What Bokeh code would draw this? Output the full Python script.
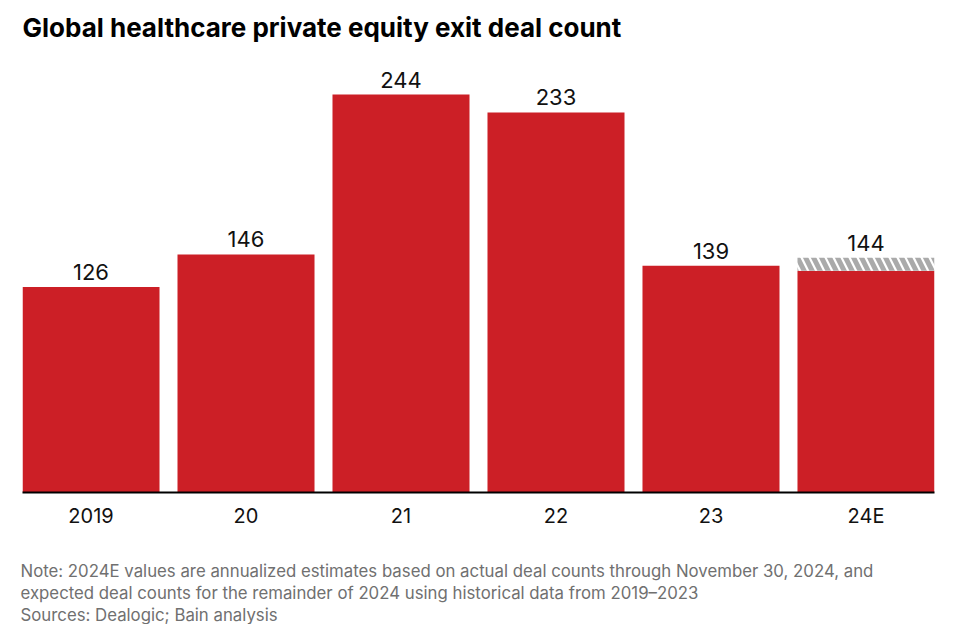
from bokeh.plotting import figure
from bokeh.models import Range1d, Title, FixedTicker
from bokeh.core.properties import value
from bokeh.embed import file_html
from bokeh.resources import INLINE

categories = ["2019", "20", "21", "22", "23", "24E"]
actual = [126, 146, 244, 233, 139, 136]
totals = [126, 146, 244, 233, 139, 144]
labels = ["126", "146", "244", "233", "139", "144"]

title_text = "Global healthcare private equity exit deal count"
notes = [
    "Note: 2024E values are annualized estimates based on actual deal counts through November 30, 2024, and",
    "expected deal counts for the remainder of 2024 using historical data from 2019\u20132023",
    "Sources: Dealogic; Bain analysis",
]

FONT = "Inter"
RED = "#cc1f26"

xs = list(range(len(categories)))

p = figure(width=950, height=624, x_range=Range1d(-0.442, 5.442), y_range=Range1d(0, 270.4),
           output_backend="svg", toolbar_location=None,
           min_border_left=22, min_border_right=16, min_border_top=0, min_border_bottom=0)

p.title.text = title_text
p.title.text_font = FONT
p.title.text_font_size = "26px"
p.title.text_font_style = "bold"
p.title.text_color = "#000000"
p.title.standoff = 18

p.vbar(x=xs, top=actual, width=0.884, fill_color=RED, line_color=None)
p.vbar(x=xs, bottom=actual, top=totals, width=0.884, fill_color="white", line_color=None,
       hatch_pattern="\\", hatch_color="#aaaaaa", hatch_scale=16, hatch_weight=5)

p.text(x=xs, y=totals, text=labels, y_offset=-7, text_align="center", text_baseline="bottom",
       text_font=value(FONT), text_font_size="22px", text_color="#111111")

p.xaxis.ticker = FixedTicker(ticks=xs)
p.xaxis.major_label_overrides = {i: c for i, c in enumerate(categories)}
p.xaxis.major_label_text_font = FONT
p.xaxis.major_label_text_font_size = "20px"
p.xaxis.major_label_text_color = "#111111"
p.xaxis.major_label_standoff = 5
p.xaxis.axis_line_color = "#000000"
p.xaxis.axis_line_width = 2
p.xaxis.major_tick_line_color = None
p.xaxis.minor_tick_line_color = None
p.yaxis.visible = False
p.xgrid.visible = False
p.ygrid.visible = False
p.outline_line_color = None

p.add_layout(Title(text="\u00a0", text_font_size="1px", standoff=25), "below")
for i, n in enumerate(notes):
    t = Title(text=n, text_font=FONT, text_font_size="16.8px", text_font_style="normal",
              text_color="#707070", offset=-2, standoff=0)
    p.add_layout(t, "below")

open("out.html", "w").write(file_html(p, INLINE))
